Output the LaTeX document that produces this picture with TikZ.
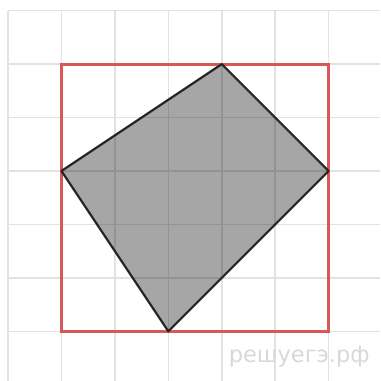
\documentclass[tikz,border=0pt]{standalone}
\usepackage{fontspec}
\newfontfamily\wmfont{DejaVu Sans}
\definecolor{gridgray}{RGB}{226,226,226}
\definecolor{boxred}{RGB}{216,88,88}
\definecolor{wmgray}{RGB}{216,216,216}

\begin{document}
\begin{tikzpicture}[x=1cm,y=1cm]
	\path[use as bounding box] (-0.15,-0.93) rectangle (6.97,6.2);
	% First, the grid
	\foreach \i in {0,...,6} {
		\draw[gridgray, line width=0.8pt] (\i,-0.93) -- (\i,6);
		\draw[gridgray, line width=0.8pt] (0,\i) -- (6.97,\i);
	}
	
	% Second, the corners of the figure
	\coordinate (top) at (4,5);
	\coordinate (right) at (6,3);
	\coordinate (bottom) at (3,0);
	\coordinate (left) at (1,3);
	
	% Third, the shaded figure and the red square round it
	\fill[black, fill opacity=0.35] (top) -- (right) -- (bottom) -- (left) -- cycle;
	\draw[boxred, line width=1.6pt] (1,0) rectangle (6,5);
	\draw[black!85, line width=1.2pt, line join=round] (top) -- (right) -- (bottom) -- (left) -- cycle;
	
	\node[wmgray, font=\wmfont\fontsize{12}{14}\selectfont] (mark) at (5.45,-0.47) {решуегэ.рф};
\end{tikzpicture}
\end{document}
